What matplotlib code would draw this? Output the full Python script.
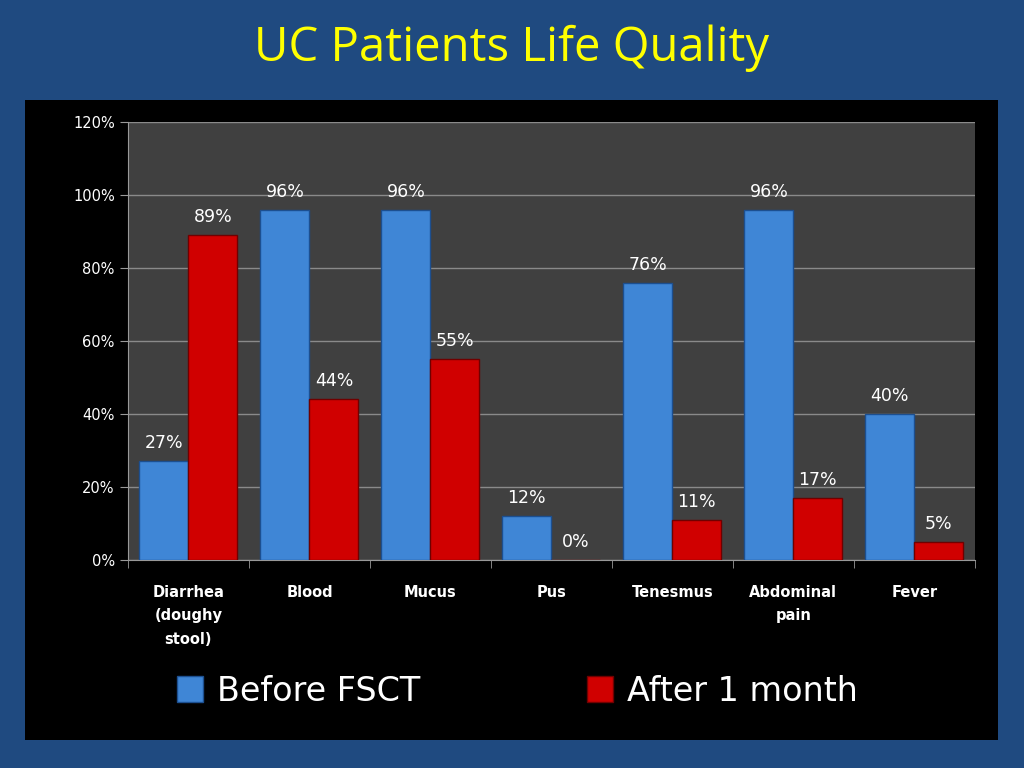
import matplotlib
matplotlib.use("Agg")
import matplotlib.pyplot as plt
from matplotlib.patches import Rectangle
import numpy as np

categories = ["Diarrhea\n(doughy\nstool)", "Blood", "Mucus", "Pus", "Tenesmus", "Abdominal\npain", "Fever"]
before = [27, 96, 96, 12, 76, 96, 40]
after = [89, 44, 55, 0, 11, 17, 5]
yticks = [0, 20, 40, 60, 80, 100, 120]

fig = plt.figure(figsize=(10.24, 7.68), dpi=100)
fig.patch.set_facecolor("#1f4a80")
fig.add_artist(Rectangle((0.0244, 0.0365), 0.950, 0.833, transform=fig.transFigure,
                         facecolor="black", edgecolor="none", zorder=0))
fig.text(0.5, 0.937, "UC Patients Life Quality", color="#ffff00", fontsize=34,
         ha="center", va="center", family="Open Sans")

ax = fig.add_axes([0.125, 0.271, 0.827, 0.570])
ax.set_facecolor("#404040")
x = np.arange(len(categories))
w = 0.405
b1 = ax.bar(x - w/2, before, w, color="#3f86d6", edgecolor="#1c4f90", linewidth=1, label="Before FSCT", zorder=3)
b2 = ax.bar(x + w/2, after, w, color="#d00000", edgecolor="#700000", linewidth=1, label="After 1 month", zorder=3)
for xs, vals in ((x - w/2, before), (x + w/2, after)):
    for xi, v in zip(xs, vals):
        ax.text(xi, v + 2.5, f"{v}%", color="white", ha="center", va="bottom", fontsize=12.5)
ax.set_xlim(-0.5, len(categories) - 0.5)
ax.set_ylim(0, 120)
ax.set_yticks(yticks)
ax.set_yticklabels([f"{t}%" for t in yticks], color="white", fontsize=10.5)
ax.set_xticks(np.arange(len(categories) + 1) - 0.5, minor=True)
ax.set_xticks(x)
ax.set_xticklabels(categories, color="white", fontsize=10.5, fontweight="bold", va="top",
                   linespacing=1.7)
ax.tick_params(axis="x", which="major", length=0, pad=18)
ax.tick_params(axis="x", which="minor", length=6, color="#999999")
ax.tick_params(axis="y", length=6, color="#999999")
ax.grid(axis="y", color="#8a8a8a", linewidth=1, zorder=0)
for s in ("top", "right"):
    ax.spines[s].set_visible(False)
ax.spines["left"].set_color("#999999")
ax.spines["bottom"].set_color("#999999")

fig.legend(handles=[b1, b2], loc="center", bbox_to_anchor=(0.505, 0.1), ncol=2,
           frameon=False, fontsize=24, labelcolor="white", columnspacing=5,
           handlelength=0.8, handleheight=0.8, handletextpad=0.4)
fig.savefig("out.png", dpi=100, facecolor=fig.get_facecolor())
